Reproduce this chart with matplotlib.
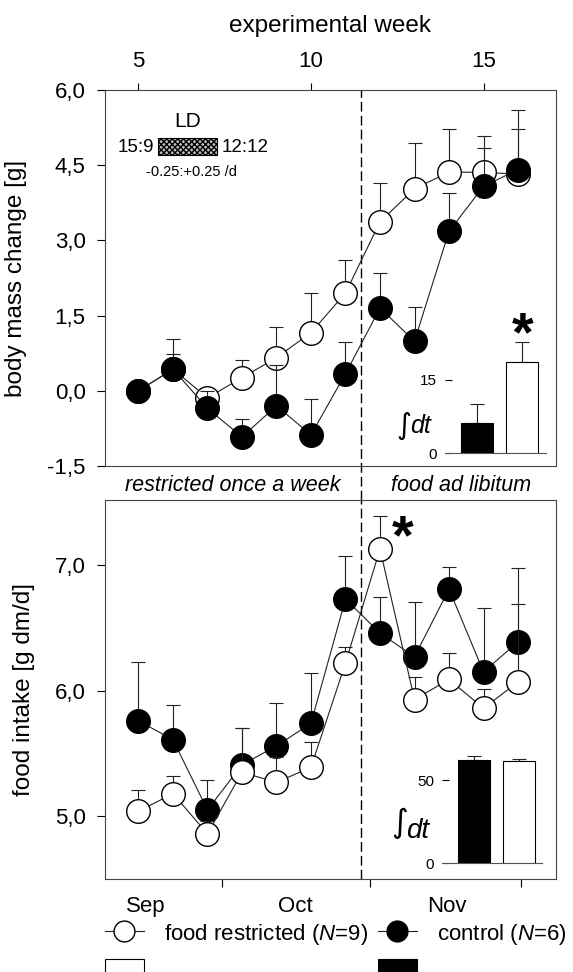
import matplotlib
matplotlib.use("Agg")
import matplotlib.pyplot as plt
from matplotlib.lines import Line2D
from matplotlib.patches import Patch, Rectangle
from matplotlib.ticker import FuncFormatter, FixedLocator
import numpy as np

plt.rcParams['font.family'] = ['Liberation Sans', 'DejaVu Sans']
plt.rcParams['mathtext.fontset'] = 'custom'
plt.rcParams['mathtext.rm'] = 'Liberation Sans'
plt.rcParams['mathtext.it'] = 'Liberation Sans:italic'

# experimental weeks
weeks = [5, 6, 7, 8, 9, 10, 11, 12, 13, 14, 15, 16]

# body mass change [g]
bm_restricted = [0.0, 0.43, -0.14, 0.26, 0.66, 1.16, 1.95, 3.37, 4.03, 4.36, 4.36, 4.32]
bm_restricted_err = [0.0, 0.3, 0.19, 0.36, 0.61, 0.79, 0.65, 0.77, 0.91, 0.86, 0.73, 0.90]
bm_control = [0.0, 0.43, -0.35, -0.92, -0.30, -0.88, 0.34, 1.65, 0.99, 3.18, 4.08, 4.41]
bm_control_err = [0.0, 0.61, 0.35, 0.36, 0.81, 0.72, 0.63, 0.69, 0.68, 0.76, 0.76, 1.19]

# food intake [g dm/d]
fi_restricted = [5.04, 5.18, 4.86, 5.35, 5.27, 5.39, 6.22, 7.13, 5.93, 6.09, 5.86, 6.07]
fi_restricted_err = [0.17, 0.14, 0.10, 0.35, 0.20, 0.20, 0.13, 0.26, 0.18, 0.21, 0.15, 0.62]
fi_control = [5.76, 5.61, 5.05, 5.41, 5.56, 5.74, 6.73, 6.46, 6.27, 6.81, 6.15, 6.39]
fi_control_err = [0.47, 0.28, 0.24, 0.29, 0.34, 0.40, 0.34, 0.29, 0.44, 0.18, 0.51, 0.59]

# integrals (control, restricted)
bm_auc = [6.1, 18.6]
bm_auc_err = [3.9, 4.1]
fi_auc = [62.4, 61.4]
fi_auc_err = [2.0, 1.4]

# calendar months on the week axis
month_edges = [7.42, 11.72, 16.09]
month_centers = [5.20, 9.54, 13.94]
month_labels = ['Sep', 'Oct', 'Nov']

switch_week = 11.45

fig = plt.figure(figsize=(5.73, 9.72), dpi=100)
ax1 = fig.add_axes([0.1832, 0.5206, 0.7871, 0.3868])
ax2 = fig.add_axes([0.1832, 0.0957, 0.7871, 0.3899])

frame_col = '#444444'
for ax in (ax1, ax2):
    for s in ax.spines.values():
        s.set_linewidth(0.8)
        s.set_color(frame_col)
    ax.set_xlim(4.03, 17.1)


def draw_series(ax, y, err, filled, z):
    fc = 'black' if filled else 'white'
    ax.errorbar(weeks, y, yerr=[np.zeros(len(err)), err], fmt='none',
                ecolor='#222222', elinewidth=0.8, capsize=5, capthick=0.8, zorder=z)
    ax.plot(weeks, y, '-', color='#222222', lw=0.8, zorder=z + 0.5,
            marker='o', ms=17, mfc=fc, mec='black', mew=1.0)


comma = FuncFormatter(lambda v, p: f'{v:.1f}'.replace('.', ','))

# ---- top panel: body mass
draw_series(ax1, bm_restricted, bm_restricted_err, False, 2)
draw_series(ax1, bm_control, bm_control_err, True, 4)
ax1.set_ylim(-1.5, 6.0)
ax1.set_yticks([-1.5, 0, 1.5, 3.0, 4.5, 6.0])
ax1.yaxis.set_major_formatter(comma)
ax1.xaxis.tick_top()
ax1.set_xticks([5, 10, 15])
ax1.tick_params(axis='x', direction='out', length=5, width=0.8, pad=8, labelsize=16, colors='black')
ax1.tick_params(axis='y', direction='out', length=6, width=0.8, pad=8, labelsize=16)
ax1.xaxis.set_label_position('top')
ax1.set_xlabel('experimental week', fontsize=17.5, labelpad=14)
ax1.set_ylabel('body mass change [g]', fontsize=17.5)
ax1.yaxis.set_label_coords(-0.173, 0.5)
ax1.axvline(switch_week, ymin=-0.091, ymax=1, color='black', lw=1.0,
            dashes=(7, 3), clip_on=False, zorder=1)

# LD photoperiod note
ax1.text(6.42, 5.37, 'LD', fontsize=15, ha='center', va='center')
ax1.text(5.45, 4.86, '15:9', fontsize=13.5, ha='right', va='center')
ax1.add_patch(Rectangle((5.58, 4.70), 1.71, 0.34, facecolor='#bdbdbd', edgecolor='black',
                        lw=0.8, hatch='xxxxxx'))
ax1.text(7.40, 4.86, '12:12', fontsize=13.5, ha='left', va='center')
ax1.text(6.53, 4.36, '-0.25:+0.25 /d', fontsize=10.5, ha='center', va='center')

# section labels between panels
ax1.text(7.72, -1.88, 'restricted once a week', fontsize=15.5, style='italic',
         ha='center', va='center', clip_on=False)
ax1.text(14.35, -1.88, 'food ad libitum', fontsize=15.5, style='italic',
         ha='center', va='center', clip_on=False)

# ---- bottom panel: food intake
draw_series(ax2, fi_control, fi_control_err, True, 2)
draw_series(ax2, fi_restricted, fi_restricted_err, False, 4)
ax2.set_ylim(4.5, 7.52)
ax2.set_yticks([5.0, 6.0, 7.0])
ax2.yaxis.set_major_formatter(comma)
ax2.xaxis.set_major_locator(FixedLocator(month_edges))
ax2.xaxis.set_major_formatter(FuncFormatter(lambda v, p: ''))
ax2.xaxis.set_minor_locator(FixedLocator(month_centers))
ax2.set_xticklabels(month_labels, minor=True)
ax2.tick_params(axis='x', which='major', direction='out', length=6, width=0.8)
ax2.tick_params(axis='x', which='minor', length=0, pad=12, labelsize=16)
ax2.tick_params(axis='y', direction='out', length=6, width=0.8, pad=8, labelsize=16)
ax2.set_ylabel('food intake [g dm/d]', fontsize=17.5)
ax2.yaxis.set_label_coords(-0.155, 0.5)
ax2.axvline(switch_week, color='black', lw=1.0, dashes=(7, 3), zorder=1)
ax2.text(12.66, 7.21, '*', fontsize=40, fontweight='bold', ha='center', va='center')


# ---- integral insets
def draw_inset(parent, bounds, vals, errs, top, ticks, int_pos, int_size, star):
    ins = parent.inset_axes(bounds, transform=parent.transData)
    ins.set_facecolor('none')
    pos = np.arange(len(vals))
    ins.bar(pos, vals, width=0.70, color=['black', 'white'], edgecolor='black', lw=0.8, zorder=3)
    ins.errorbar(pos, vals, yerr=[np.zeros(len(errs)), errs], fmt='none', ecolor='#222222',
                 elinewidth=0.8, capsize=5, capthick=0.8, zorder=2)
    ins.set_xlim(-0.70, 1.52)
    ins.set_ylim(0, top)
    ins.set_xticks([])
    ins.set_yticks(ticks)
    for k in ('top', 'right', 'left'):
        ins.spines[k].set_visible(False)
    ins.spines['bottom'].set_color('#555555')
    ins.spines['bottom'].set_linewidth(0.8)
    ins.tick_params(axis='y', direction='in', length=5, width=0.8, pad=6, labelsize=11)
    ix, iy, dy = int_pos
    # integral sign and italic dt sit side by side
    ins.text(ix + 0.012, iy, '\u222b', fontsize=int_size * 1.15, family='DejaVu Sans',
             transform=ins.transAxes, ha='right', va='center')
    ins.text(ix, dy, 'dt', fontsize=int_size, style='italic',
             transform=ins.transAxes, ha='left', va='baseline')
    if star:
        ins.text(1, vals[1] + errs[1] + 1.0, '*', fontsize=40, fontweight='bold',
                 ha='center', va='center')
    return ins


draw_inset(ax1, [13.89, -1.25, 2.92, 2.75], bm_auc, bm_auc_err, 28, [0, 15],
           (-0.35, 0.20, 0.145), 18, True)
draw_inset(ax2, [13.81, 4.625, 2.89, 1.06], fi_auc, fi_auc_err, 80, [0, 50],
           (-0.36, 0.30, 0.19), 20, False)

# ---- legend
handles = [
    Line2D([], [], color='#222222', lw=0.8, marker='o', ms=15, mfc='white', mec='black'),
    Patch(facecolor='white', edgecolor='black', lw=0.8),
    Line2D([], [], color='#222222', lw=0.8, marker='o', ms=15, mfc='black', mec='black'),
    Patch(facecolor='black', edgecolor='black', lw=0.8),
]
labels = ['food restricted ($N$=9)', '', 'control ($N$=6)', '']
fig.legend(handles, labels, ncol=2, loc='upper left', bbox_to_anchor=(0.183, 0.0514),
           frameon=False, fontsize=16, handlelength=1.75, handleheight=1.0,
           handletextpad=0.9, columnspacing=0.45, labelspacing=0.55,
           borderpad=0, borderaxespad=0)

fig.savefig('out.png', dpi=100)
